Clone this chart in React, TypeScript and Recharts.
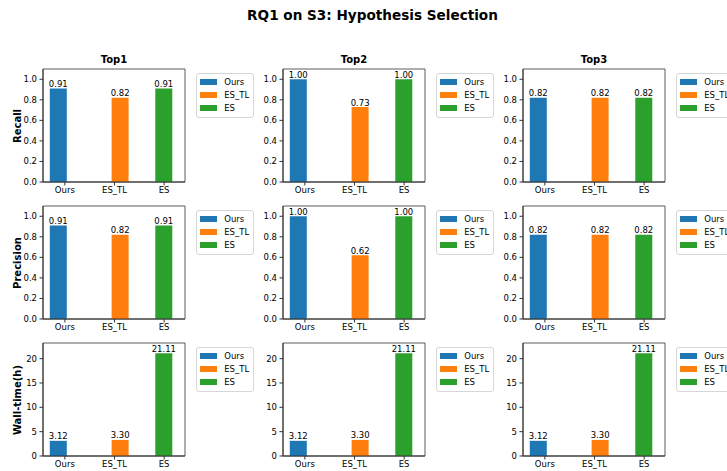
import React from 'react';
import { BarChart, Bar, XAxis, YAxis, LabelList, ReferenceArea } from 'recharts';

const CATEGORIES = ['Ours', 'ES_TL', 'ES'];
const COLORS = ['#1f77b4', '#ff7f0e', '#2ca02c'];
const COLUMN_TITLES = ['Top1', 'Top2', 'Top3'];
const ROW_LABELS = ['Recall', 'Precision', 'Wall-time(h)'];

const RECALL_TOP1 = [0.91, 0.82, 0.91];
const RECALL_TOP2 = [1.0, 0.73, 1.0];
const RECALL_TOP3 = [0.82, 0.82, 0.82];
const PRECISION_TOP1 = [0.91, 0.82, 0.91];
const PRECISION_TOP2 = [1.0, 0.62, 1.0];
const PRECISION_TOP3 = [0.82, 0.82, 0.82];
const WALLTIME_TOP1 = [3.12, 3.3, 21.11];
const WALLTIME_TOP2 = [3.12, 3.3, 21.11];
const WALLTIME_TOP3 = [3.12, 3.3, 21.11];

const SCORE_TICKS = [0, 0.2, 0.4, 0.6, 0.8, 1.0];
const TIME_TICKS = [0, 5, 10, 15, 20];

// layout (px) and axis settings
const COL_LEFT = [43, 283, 523];
const ROW_TOP = [69, 206, 343];
const PLOT_W = 142;
const PLOT_H = 113;
const Y_AXIS_W = 43;
const TOP_PAD = 15;
const X_AXIS_H = 22;
const X_DOMAIN = [-0.44, 2.42];
const BAR_SHIFT = [-0.125, 0.12, 0];
const FONT = 'DejaVu Sans';
const TICK_FS = 8.5;
const SPINE = '#333';

const rowsSpec = [
  { label: ROW_LABELS[0], values: [RECALL_TOP1, RECALL_TOP2, RECALL_TOP3], yMax: 1.1, ticks: SCORE_TICKS, fmt: (v: number) => v.toFixed(1) },
  { label: ROW_LABELS[1], values: [PRECISION_TOP1, PRECISION_TOP2, PRECISION_TOP3], yMax: 1.1, ticks: SCORE_TICKS, fmt: (v: number) => v.toFixed(1) },
  { label: ROW_LABELS[2], values: [WALLTIME_TOP1, WALLTIME_TOP2, WALLTIME_TOP3], yMax: 23.22, ticks: TIME_TICKS, fmt: (v: number) => String(v) },
];

function Legend({ left, top }: { left: number; top: number }) {
  return (
    <div
      style={{
        position: 'absolute',
        left,
        top,
        border: '1px solid #d6d6d6',
        borderRadius: 3,
        background: '#fff',
        padding: '1px 4px 2px 3px',
        fontSize: TICK_FS,
        whiteSpace: 'nowrap',
      }}
    >
      {CATEGORIES.map((name, i) => (
        <div key={name} style={{ display: 'flex', alignItems: 'center', height: 13.3 }}>
          <span style={{ display: 'inline-block', width: 16.6, height: 5.8, background: COLORS[i], marginRight: 7.6 }} />
          <span>{name}</span>
        </div>
      ))}
    </div>
  );
}

function Panel({ values, yMax, ticks, fmt, left, top }: any) {
  const rows = CATEGORIES.map((name, i) => ({ x: i + BAR_SHIFT[i], [name]: values[i] }));
  return (
    <div style={{ position: 'absolute', left: left - Y_AXIS_W, top: top - TOP_PAD }}>
      <BarChart
        width={Y_AXIS_W + PLOT_W + 1}
        height={TOP_PAD + PLOT_H + X_AXIS_H}
        data={rows}
        margin={{ top: TOP_PAD, right: 1, bottom: 0, left: 0 }}
      >
        <XAxis
          dataKey="x"
          type="number"
          domain={X_DOMAIN}
          ticks={[0, 1, 2]}
          interval={0}
          tickFormatter={(v) => CATEGORIES[v]}
          height={X_AXIS_H}
          stroke={SPINE}
          tickSize={3.5}
          tickMargin={1}
          tick={{ fill: '#000', fontSize: TICK_FS }}
        />
        <YAxis
          type="number"
          domain={[0, yMax]}
          ticks={ticks}
          interval={0}
          tickFormatter={fmt}
          width={Y_AXIS_W}
          stroke={SPINE}
          tickSize={3.5}
          tickMargin={2.5}
          tick={{ fill: '#000', fontSize: TICK_FS }}
        />
        {CATEGORIES.map((name, i) => (
          <Bar key={name} dataKey={name} stackId="s" fill={COLORS[i]} barSize={17} isAnimationActive={false}>
            <LabelList
              dataKey={name}
              position="top"
              offset={1.5}
              formatter={(v: any) => (v == null ? '' : Number(v).toFixed(2))}
              fill="#000"
              fontSize={TICK_FS}
            />
          </Bar>
        ))}
        {/* axes frame (matplotlib spines) */}
        <ReferenceArea
          x1={X_DOMAIN[0]}
          x2={X_DOMAIN[1]}
          y1={0}
          y2={yMax}
          fill="none"
          fillOpacity={0}
          stroke={SPINE}
          strokeWidth={0.8}
          ifOverflow="visible"
        />
      </BarChart>
    </div>
  );
}

export default function App() {
  return (
    <div style={{ position: 'relative', width: 727, height: 471, overflow: 'hidden', background: '#fff', fontFamily: FONT, color: '#000' }}>
      <style>{'body{margin:0}'}</style>
      <div style={{ position: 'absolute', left: 0, width: 745, top: 7, textAlign: 'center', fontWeight: 'bold', fontSize: 13.6 }}>
        RQ1 on S3: Hypothesis Selection
      </div>
      {COLUMN_TITLES.map((t, c) => (
        <div
          key={t}
          style={{ position: 'absolute', left: COL_LEFT[c], width: PLOT_W, top: 54, textAlign: 'center', fontWeight: 'bold', fontSize: 10 }}
        >
          {t}
        </div>
      ))}
      {rowsSpec.map((row, r) => (
        <React.Fragment key={row.label}>
          <div
            style={{
              position: 'absolute',
              left: 17,
              top: ROW_TOP[r] + PLOT_H / 2,
              transform: 'translate(-50%, -50%) rotate(-90deg)',
              fontWeight: 'bold',
              fontSize: 10,
              whiteSpace: 'nowrap',
            }}
          >
            {row.label}
          </div>
          {COL_LEFT.map((left, c) => (
            <React.Fragment key={c}>
              <Panel values={row.values[c]} yMax={row.yMax} ticks={row.ticks} fmt={row.fmt} left={left} top={ROW_TOP[r]} />
              <Legend left={left + PLOT_W + 11} top={ROW_TOP[r] + 4} />
            </React.Fragment>
          ))}
        </React.Fragment>
      ))}
    </div>
  );
}
